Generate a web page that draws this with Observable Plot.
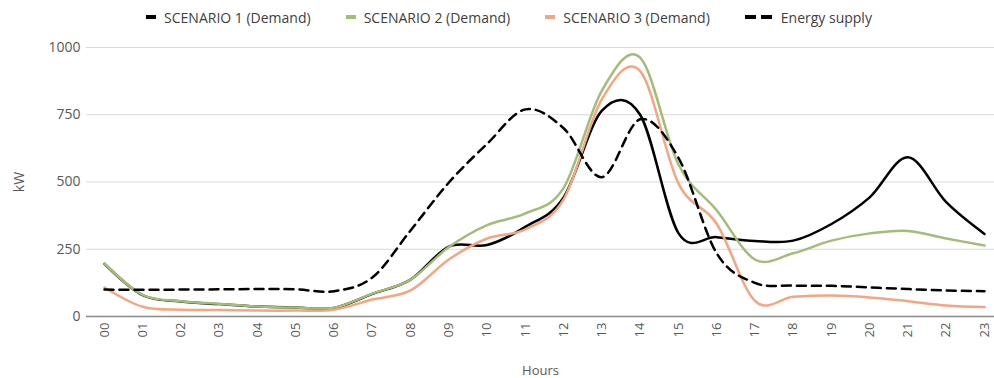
<!DOCTYPE html>
<html><head><meta charset="utf-8">
<script src="https://cdn.jsdelivr.net/npm/d3@7"></script>
<script src="https://cdn.jsdelivr.net/npm/@observablehq/plot@0.6"></script>
<style>
body{margin:0;background:#fff;font-family:"Open Sans",sans-serif;}
#legend{display:flex;justify-content:center;align-items:center;height:34px;font-size:14px;color:#404040;gap:35px;padding-left:24px;box-sizing:border-box;width:994px;}
#legend .item{display:flex;align-items:center;white-space:nowrap;}
#legend .sw{display:inline-block;width:10px;height:4px;margin-right:8px;}
#legend .dash{display:inline-block;width:11px;height:4px;margin-right:5px;background:#000;}
</style></head><body>
<div id="legend"></div><div id="chart"></div>
<script>
const hourLabels = ["00","01","02","03","04","05","06","07","08","09","10","11","12","13","14","15","16","17","18","19","20","21","22","23"];
const seriesNames = ["SCENARIO 1 (Demand)","SCENARIO 2 (Demand)","SCENARIO 3 (Demand)","Energy supply"];
const scenario1 = [196,79,56,46,37,33,32,84,137,260,266,333,443,765,750,310,295,281,282,344,443,592,425,307];
const scenario2 = [197,80,57,47,37,33,33,85,137,258,340,383,478,840,962,565,395,212,235,282,309,318,290,264];
const scenario3 = [108,36,25,24,22,22,25,63,97,212,290,324,435,808,912,495,345,58,73,78,71,57,41,35];
const supply = [100,99,100,101,102,101,94,145,320,498,642,770,700,518,733,590,235,125,115,114,108,102,97,94];
const yTicks = [0, 250, 500, 750, 1000];
const colors = ["#000000","#a3bd78","#f4a582","#000000"];

// legend
const lg = document.getElementById("legend");
seriesNames.forEach((n,i)=>{
  const it = document.createElement("div"); it.className="item";
  if (i===3) {
    it.innerHTML = `<span class="dash"></span><span class="dash" style="margin-right:9px"></span>${n}`;
  } else {
    it.innerHTML = `<span class="sw" style="background:${colors[i]}"></span>${n}`;
  }
  lg.appendChild(it);
});

const idx = d3.range(hourLabels.length);
const seriesData = [scenario1, scenario3, scenario2];
const seriesColor = [colors[0], colors[2], colors[1]];

const chart = Plot.plot({
  width: 994, height: 344,
  marginTop: 13, marginLeft: 86, marginRight: 0, marginBottom: 62,
  style: {fontFamily: "'Open Sans', sans-serif", color: "#595959", background: "#fff"},
  x: {domain: [0, 23], insetLeft: 18, insetRight: 10},
  y: {domain: [0, 1000]},
  marks: [
    Plot.gridY(yTicks.slice(1), {stroke: "#d9d9d9", strokeOpacity: 1, strokeWidth: 1}),
    Plot.axisY({ticks: yTicks, tickFormat: d3.format("d"), tickSize: 0, tickPadding: 6, fontSize: 14,
      label: "kW", labelAnchor: "center", labelArrow: "none", labelOffset: 72}),
    Plot.axisX({ticks: idx, tickFormat: i => hourLabels[i], tickRotate: -90, tickSize: 0, tickPadding: 6, fontSize: 13,
      label: "Hours", labelAnchor: "center", labelArrow: "none", labelOffset: 58}),
    ...seriesData.map((s, k) => Plot.line(s, {x: (d, i) => i, y: d => d, stroke: seriesColor[k], strokeWidth: 2.5, curve: "cardinal", tension: 0})),
    Plot.line(supply, {x: (d, i) => i, y: d => d, stroke: colors[3], strokeWidth: 2.5, strokeDasharray: "9,6", curve: "cardinal", tension: 0}),
    Plot.ruleY([0], {stroke: "#898989", strokeWidth: 1.5})
  ]
});
document.getElementById("chart").appendChild(chart);
</script>
</body></html>
